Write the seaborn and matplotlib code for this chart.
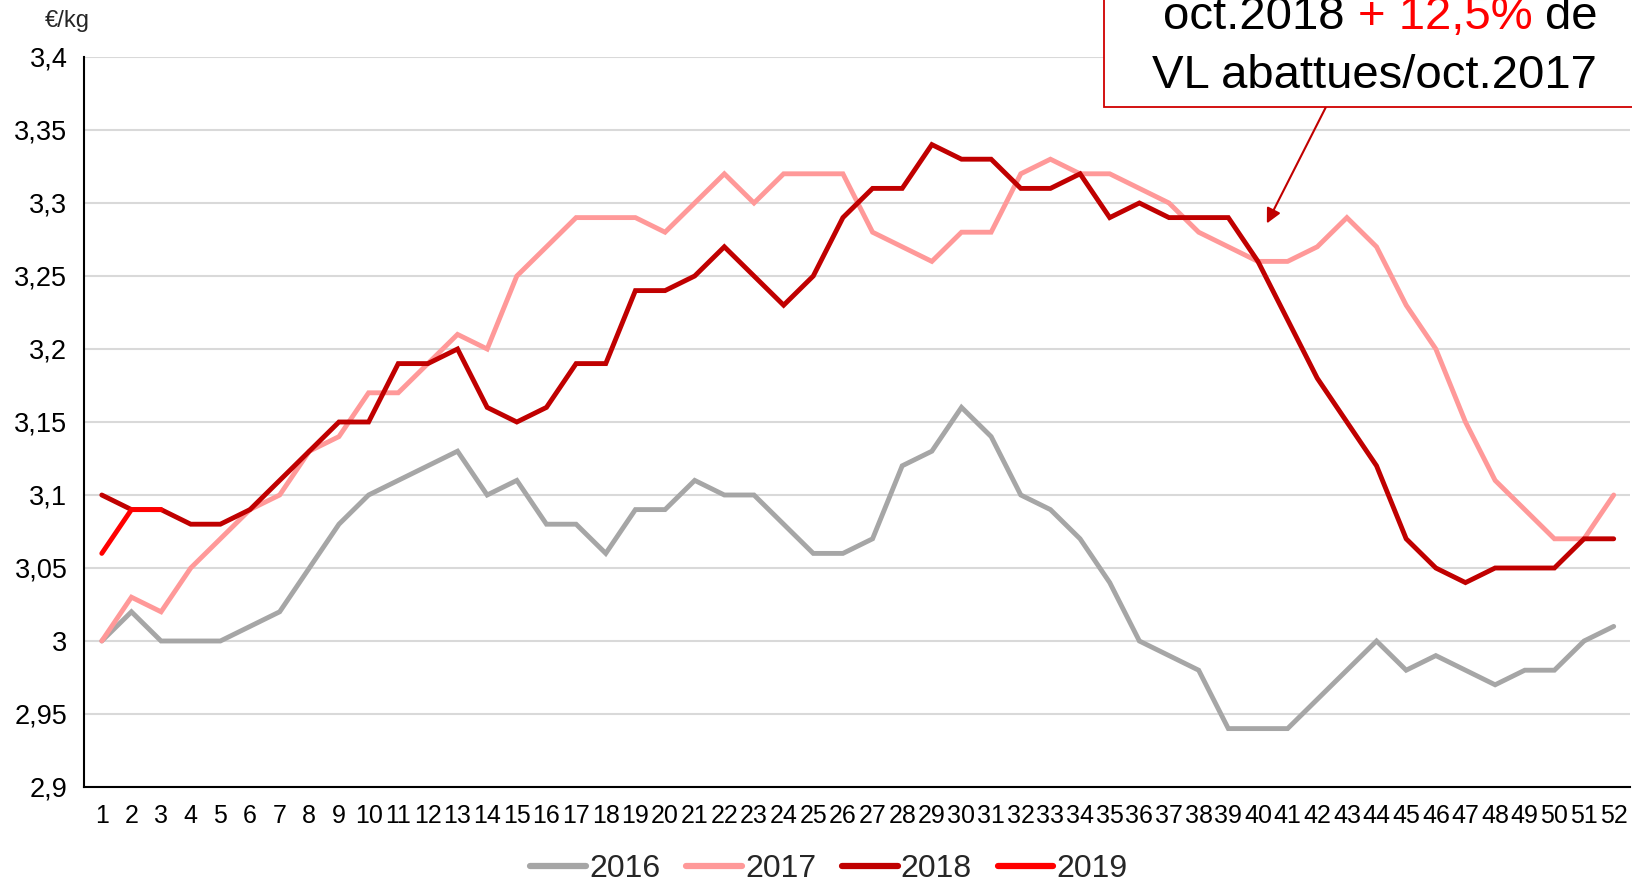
import numpy as np
import pandas as pd
import matplotlib
matplotlib.use("Agg")
import matplotlib.pyplot as plt
from matplotlib.ticker import FuncFormatter, MultipleLocator
from matplotlib.patches import Rectangle
import seaborn as sns

weeks = list(range(1, 53))
y2016 = [3.00, 3.02, 3.00, 3.00, 3.00, 3.01, 3.02, 3.05, 3.08, 3.10,
         3.11, 3.12, 3.13, 3.10, 3.11, 3.08, 3.08, 3.06, 3.09, 3.09,
         3.11, 3.10, 3.10, 3.08, 3.06, 3.06, 3.07, 3.12, 3.13, 3.16,
         3.14, 3.10, 3.09, 3.07, 3.04, 3.00, 2.99, 2.98, 2.94, 2.94,
         2.94, 2.96, 2.98, 3.00, 2.98, 2.99, 2.98, 2.97, 2.98, 2.98,
         3.00, 3.01]
y2017 = [3.00, 3.03, 3.02, 3.05, 3.07, 3.09, 3.10, 3.13, 3.14, 3.17,
         3.17, 3.19, 3.21, 3.20, 3.25, 3.27, 3.29, 3.29, 3.29, 3.28,
         3.30, 3.32, 3.30, 3.32, 3.32, 3.32, 3.28, 3.27, 3.26, 3.28,
         3.28, 3.32, 3.33, 3.32, 3.32, 3.31, 3.30, 3.28, 3.27, 3.26,
         3.26, 3.27, 3.29, 3.27, 3.23, 3.20, 3.15, 3.11, 3.09, 3.07,
         3.07, 3.10]
y2018 = [3.10, 3.09, 3.09, 3.08, 3.08, 3.09, 3.11, 3.13, 3.15, 3.15,
         3.19, 3.19, 3.20, 3.16, 3.15, 3.16, 3.19, 3.19, 3.24, 3.24,
         3.25, 3.27, 3.25, 3.23, 3.25, 3.29, 3.31, 3.31, 3.34, 3.33,
         3.33, 3.31, 3.31, 3.32, 3.29, 3.30, 3.29, 3.29, 3.29, 3.26,
         3.22, 3.18, 3.15, 3.12, 3.07, 3.05, 3.04, 3.05, 3.05, 3.05,
         3.07, 3.07]
y2019 = [3.06, 3.09, 3.09]

years = ["2016", "2017", "2018", "2019"]
colors = ["#A6A6A6", "#FF9999", "#C00000", "#FF0000"]

frames = []
for yr, vals in zip(years, [y2016, y2017, y2018, y2019]):
    frames.append(pd.DataFrame({"week": weeks[:len(vals)], "price": vals, "year": yr}))
df = pd.concat(frames, ignore_index=True)

sns.set_theme(style="white")
plt.rcParams["font.family"] = ["Liberation Sans", "DejaVu Sans"]

W, H = 1632, 884
fig = plt.figure(figsize=(W / 100, H / 100), dpi=100)
ax = fig.add_axes([84 / W, 1 - 787 / H, (1630 - 84) / W, (787 - 57) / H])

sns.lineplot(data=df, x="week", y="price", hue="year", hue_order=years,
             palette=dict(zip(years, colors)), linewidth=3.5, ax=ax,
             legend=False, sort=False)
for ln in ax.get_lines():
    ln.set_solid_capstyle("round")
    ln.set_solid_joinstyle("miter")

ax.set_xlim(0.4, 52.55)
ax.set_ylim(2.9, 3.4)
ax.yaxis.set_major_locator(MultipleLocator(0.05))
ax.set_xticks(weeks)
ax.set_xticklabels([str(w) for w in weeks])
ax.yaxis.set_major_formatter(FuncFormatter(lambda v, p: f"{round(v, 2):g}".replace(".", ",")))
ax.tick_params(axis="y", labelsize=19.5, pad=12, length=0, colors="black")
ax.tick_params(axis="x", labelsize=18, pad=12, length=0, colors="black")
ax.grid(axis="y", color="#D9D9D9", linewidth=1.5)
ax.grid(axis="x", visible=False)
ax.set_axisbelow(True)
ax.set_xlabel("")
ax.set_ylabel("")
for s in ["top", "right"]:
    ax.spines[s].set_visible(False)
for s in ["left", "bottom"]:
    ax.spines[s].set_color("black")
    ax.spines[s].set_linewidth(1.5)

fig.text(45 / W, 1 - 21 / H, "€/kg", fontsize=17, ha="left", va="center")

# Legend
handles = [plt.Line2D([0], [0], color=c, lw=4.5, solid_capstyle="round") for c in colors]
fig.legend(handles, years, loc="center", bbox_to_anchor=(829 / W, 1 - 869 / H),
           ncol=4, frameon=False, fontsize=23, handlelength=1.75,
           handletextpad=0.1, columnspacing=0.8)

# Annotation box
box = Rectangle((1104 / W, 1 - 107 / H), 0.5, 0.5, transform=fig.transFigure,
                facecolor="white", edgecolor="#D00000", linewidth=1.3,
                clip_on=False, zorder=5)
fig.add_artist(box)

fs = 34
fig.canvas.draw()
renderer = fig.canvas.get_renderer()
x = 1163
parts = [("oct.2018", "black"), ("+ 12,5%", "#FF0000"), ("de", "black")]
space_px = 0.278 * fs * 100 / 72
for txt, col in parts:
    t = fig.text(x / W, 1 - 29 / H, txt, fontsize=fs, color=col, ha="left",
                 va="baseline", zorder=6)
    bb = t.get_window_extent(renderer=renderer)
    x = bb.x1 + space_px
fig.text(1152 / W, 1 - 88 / H, "VL abattues/oct.2017", fontsize=fs, color="black",
         ha="left", va="baseline", zorder=6)

ax.annotate("", xy=(40.3, 3.286), xytext=(42.3, 3.366), xycoords="data",
            textcoords="data",
            arrowprops=dict(arrowstyle="-|>", color="#C00000", lw=1.5,
                            mutation_scale=22, shrinkA=0, shrinkB=0),
            annotation_clip=False, zorder=6)

fig.savefig("out.png", dpi=100)
